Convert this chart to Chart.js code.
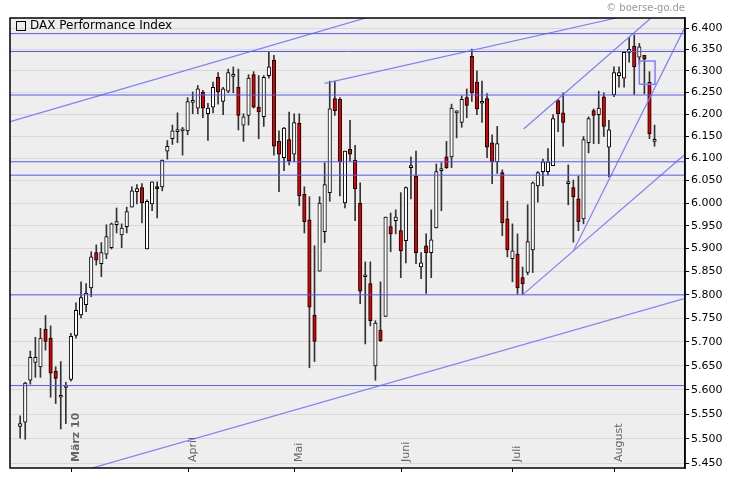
<!DOCTYPE html>
<html>
<head>
<meta charset="utf-8">
<script src="https://cdn.jsdelivr.net/npm/chart.js@4/dist/chart.umd.min.js"></script>
<style>
body{margin:0;background:#fff}
</style>
</head>
<body>
<canvas id="chart" width="730" height="481"></canvas>
<script>
// daily candles, DAX, late Feb - mid Aug 2010 (index 1..126)
const opens  = [5525,5534,5620,5657,5648,5727,5708,5639,5585,5605,5622,5714,5757,5779,5815,5891,5867,5888,5902,5952,5930,5948,5991,6025,6034,5899,5998,6036,6036,6116,6144,6160,6162,6162,6227,6214,6251,6201,6216,6285,6229,6253,6287,6262,6175,6197,6291,6216,6194,6289,6325,6138,6101,6142,6109,6179,6019,5963,5757,5851,5937,6023,6236,6234,6000,6120,6096,6000,5839,5824,5650,5725,5754,5948,5961,5939,5917,6079,6060,5860,5906,5891,5945,6072,6103,6103,6203,6181,6238,6334,6274,6225,6236,6135,6092,6068,5965,5878,5888,5837,5848,5897,6038,6070,6070,6083,6231,6203,6043,6034,6009,5965,6135,6208,6199,6240,6125,6245,6289,6283,6343,6358,6332,6336,6274,6138];
const highs  = [5547,5616,5681,5710,5729,5756,5734,5648,5659,5616,5718,5783,5828,5824,5893,5908,5913,5952,5956,5989,5954,5991,6036,6041,6043,6007,6047,6047,6096,6140,6175,6203,6170,6238,6251,6266,6255,6225,6274,6296,6262,6304,6309,6304,6201,6291,6298,6289,6289,6343,6336,6162,6170,6205,6201,6201,6036,6014,5906,6014,6090,6276,6276,6238,6116,6186,6129,6045,5871,5871,5745,5828,5969,5978,5985,6023,6036,6103,6116,5891,5932,5985,6087,6090,6138,6223,6208,6242,6258,6351,6300,6276,6247,6153,6172,6074,6004,5954,5932,5860,5996,6047,6070,6098,6122,6199,6234,6249,6085,6051,6060,6149,6194,6212,6253,6249,6186,6309,6309,6343,6379,6384,6364,6336,6298,6175];
const lows   = [5501,5499,5612,5626,5626,5683,5585,5572,5520,5531,5618,5708,5751,5764,5796,5864,5839,5878,5899,5934,5902,5934,5991,5998,5956,5899,5983,5967,6027,6098,6131,6135,6107,6153,6201,6201,6192,6140,6203,6223,6199,6249,6249,6164,6138,6175,6214,6144,6172,6283,6107,6025,6072,6085,6092,5994,5934,5646,5659,5851,5913,6004,6197,6016,5989,6094,5961,5781,5696,5734,5620,5701,5754,5893,5932,5837,5869,6009,5867,5835,5803,5837,5945,5983,6077,6079,6146,6170,6192,6229,6199,6181,6101,6043,6066,5928,5882,5828,5802,5802,5843,5848,6002,6038,6062,6083,6160,6127,5996,5914,5939,5954,6112,6133,6133,6149,6058,6240,6262,6262,6320,6245,6315,6247,6144,6127];
const closes = [5531,5614,5668,5668,5708,5701,5635,5624,5585,5605,5712,5767,5794,5804,5882,5875,5891,5926,5954,5959,5945,5981,6027,6032,6000,6004,6047,6032,6096,6127,6162,6164,6162,6229,6227,6258,6214,6214,6262,6251,6258,6296,6287,6197,6194,6283,6216,6205,6285,6309,6127,6109,6168,6094,6181,6016,5959,5774,5701,6000,6041,6212,6208,6092,6116,6109,6032,5808,5843,5745,5740,5703,5969,5932,5969,5895,6034,6079,5891,5869,5891,5919,6070,6072,6079,6214,6203,6234,6220,6249,6212,6225,6125,6092,6133,5956,5897,5895,5815,5824,5915,6045,6068,6092,6092,6190,6201,6181,6043,6014,5959,6142,6190,6197,6214,6172,6164,6296,6296,6343,6351,6309,6356,6327,6155,6138];

const yTicks = [];
for (let v = 5450; v <= 6400; v += 50) yTicks.push(v);

const monthTicks  = [11, 34, 55, 76, 98, 118];
const monthLabels = ["März 10", "April", "Mai", "Juni", "Juli", "August"];

// support / resistance levels
const levels = [6387, 6345, 6244, 6092, 6062, 5800, 5609];
// trend lines [x1, y1, x2, y2]
const trends = [
  [-0.97, 6183, 69.9, 6427],
  [61.0, 6271, 118.5, 6424],
  [13.8, 5437, 132.1, 5793],
  [100, 5800, 131.9, 6108],
  [100.2, 6166, 125.3, 6424],
  [110.1, 5897, 131.9, 6400]
];
const box = [123.0, 6269, 126.1, 6323];

let idx = opens.map((o, i) => i + 1);
let wickData = idx.map((x, i) => ({x: x, y: [lows[i], highs[i]]}));
let bodyData = idx.map((x, i) => ({x: x, y: [opens[i], closes[i]]}));

let datasets = [];
levels.forEach(v => datasets.push({
  type: 'line', data: [{x: -1, y: v}, {x: 132, y: v}],
  borderColor: '#5555ff', borderWidth: 1, pointRadius: 0, order: 0
}));
trends.forEach(t => datasets.push({
  type: 'line', data: [{x: t[0], y: t[1]}, {x: t[2], y: t[3]}],
  borderColor: '#7f7fff', borderWidth: 1.2, pointRadius: 0, order: 0
}));
datasets.push({
  type: 'line',
  data: [{x: box[0], y: box[1]}, {x: box[0], y: box[3]}, {x: box[2], y: box[3]}, {x: box[2], y: box[1]}, {x: box[0], y: box[1]}],
  borderColor: '#7f7fff', borderWidth: 1.5, pointRadius: 0, order: 0
});
datasets.push({
  type: 'bar', data: wickData, backgroundColor: '#333', barThickness: 1, order: 2, grouped: false
});
datasets.push({
  type: 'bar', data: bodyData, barThickness: 3.5, order: 1, grouped: false,
  minBarLength: 2,
  backgroundColor: bodyData.map((d, i) => closes[i] < opens[i] ? '#e00000' : '#ffffff'),
  borderColor: '#000', borderWidth: 1, borderSkipped: false
});

const frame = {
  id: 'frame',
  beforeDraw(c) {
    let a = c.chartArea, ctx = c.ctx;
    ctx.save();
    ctx.fillStyle = '#eeeeee';
    ctx.fillRect(a.left, a.top, a.right - a.left, a.bottom - a.top);
    ctx.restore();
  },
  afterDraw(c) {
    let a = c.chartArea, ctx = c.ctx, xs = c.scales.x;
    ctx.save();
    ctx.strokeStyle = '#000';
    ctx.lineWidth = 1.5;
    ctx.strokeRect(a.left, a.top, a.right - a.left, a.bottom - a.top);
    // month ticks and labels
    ctx.lineWidth = 1;
    monthTicks.forEach((m, i) => {
      let x = Math.round(xs.getPixelForValue(m)) + 0.5;
      ctx.beginPath(); ctx.moveTo(x, a.bottom); ctx.lineTo(x, a.bottom + 4); ctx.stroke();
      ctx.save();
      ctx.translate(x + 5, a.bottom - 6);
      ctx.rotate(-Math.PI / 2);
      ctx.fillStyle = '#666';
      ctx.font = (i == 0 ? 'bold ' : '') + '11px "DejaVu Sans"';
      ctx.textAlign = 'left';
      ctx.textBaseline = 'middle';
      ctx.fillText(monthLabels[i], 0, 0);
      ctx.restore();
    });
    // legend
    ctx.fillStyle = '#000';
    ctx.strokeRect(16.5, 21.5, 9, 9);
    ctx.font = '12px "DejaVu Sans"';
    ctx.textBaseline = 'middle';
    ctx.fillText('DAX Performance Index', 30, 26);
    ctx.fillStyle = '#999';
    ctx.font = '10px "DejaVu Sans"';
    ctx.textAlign = 'right';
    ctx.fillText('© boerse-go.de', 685, 8);
    ctx.restore();
  }
};

new Chart(document.getElementById('chart'), {
  type: 'bar',
  data: {datasets: datasets},
  options: {
    responsive: false,
    animation: false,
    layout: {padding: {left: 10, top: 18, bottom: 13, right: 0}},
    plugins: {legend: {display: false}, tooltip: {enabled: false}},
    scales: {
      x: {type: 'linear', min: -1, max: 132, display: false, offset: false},
      y: {
        type: 'logarithmic', position: 'right', min: 5441, max: 6424,
        afterBuildTicks: s => { s.ticks = yTicks.map(v => ({value: v})); },
        afterFit: s => { s.width = 45; },
        ticks: {
          color: '#000', font: {family: 'DejaVu Sans', size: 11}, padding: 2,
          callback: v => (v / 1000).toFixed(3)
        },
        grid: {color: '#d8d8d8', tickColor: '#000', tickLength: 4},
        border: {color: '#000', width: 1.5}
      }
    }
  },
  plugins: [frame]
});
</script>
</body>
</html>
